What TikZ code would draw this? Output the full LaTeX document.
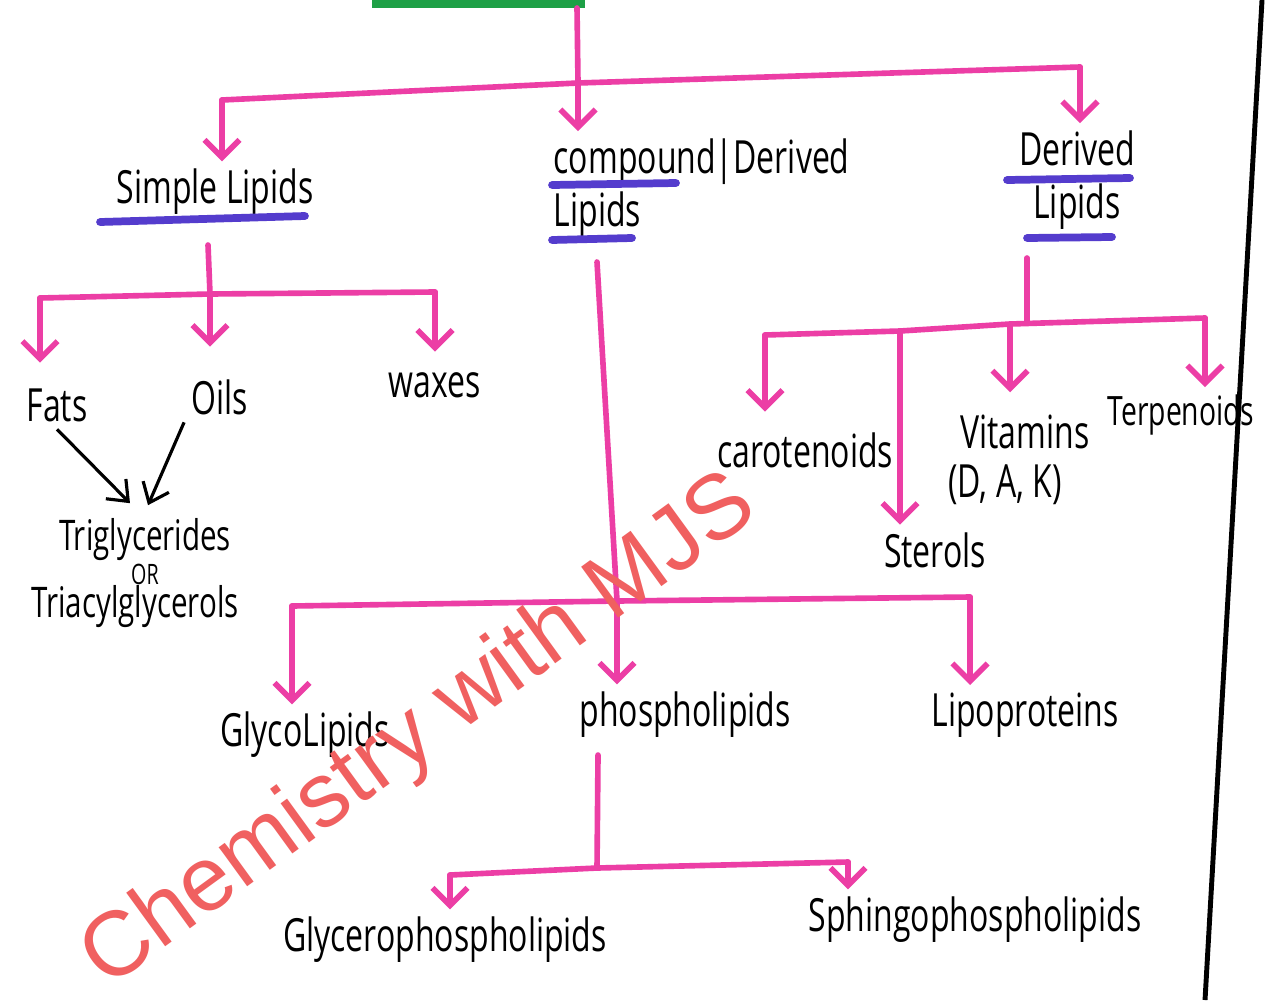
\documentclass[tikz,border=0pt]{standalone}
\usepackage{fontspec}
\setmainfont[FakeStretch=0.7]{Open Sans}
\newfontfamily\stampfont{Liberation Sans}
\usetikzlibrary{arrows.meta,positioning,calc}
\definecolor{pinkline}{RGB}{236,62,165}
\definecolor{penblue}{RGB}{84,60,205}
\definecolor{pengreen}{RGB}{30,160,70}
\definecolor{stamp}{RGB}{240,96,96}

\begin{document}
\begin{tikzpicture}[x=0.01cm,y=-0.01cm]
\tikzset{
    lbl/.style={inner sep=2pt,font=\fontsize{13}{15}\selectfont},
    bar/.style={pinkline,line width=1.6pt,line cap=round,line join=round},
    arr/.style={bar,-{Straight Barb[length=5pt,width=10pt,line width=1.6pt]}},
    uline/.style={penblue,line width=2.2pt,line cap=round},
    pen/.style={->,>={Straight Barb[length=5pt,width=8pt]},line width=0.9pt}
}
\useasboundingbox (0,0) rectangle (1271,1000);
\fill[white] (0,0) rectangle (1271,1000);
\draw[pengreen,line width=3pt] (372,3) -- (585,3);
\draw[line width=1.4pt] (1262,0) -- (1205,1000);
  % labels
\node[lbl] (simple) at (215,192) {Simple Lipids};
\node[lbl,anchor=west,align=left] (compound) at (546,188) {compound|Derived\\Lipids};
\node[lbl,align=center] (derived) at (1077,180) {Derived\\Lipids};
\node[lbl] (fats) at (57,405) {Fats};
\node[lbl] (oils) at (220,397) {Oils};
\node[lbl] (waxes) at (435,385) {waxes};
\node[lbl,font=\fontsize{12}{12}\selectfont] (trig) at (145,540) {Triglycerides};
\node[lbl,inner sep=0pt,font=\fontsize{8}{8}\selectfont] (or) at (145,574) {OR};
\node[lbl,font=\fontsize{12}{12}\selectfont] (triac) at (135,607) {Triacylglycerols};
\node[lbl] (carot) at (805,450) {carotenoids};
\node[lbl] (vit) at (1025,432) {Vitamins};
\node[lbl] (dak) at (1005,485) {(D, A, K)};
\node[lbl,font=\fontsize{11.5}{12}\selectfont] (terp) at (1181,415) {Terpenoids};
\node[lbl] (sterols) at (935,550) {Sterols};
\node[lbl] (glyco) at (305,735) {GlycoLipids};
\node[lbl] (phospho) at (685,715) {phospholipids};
\node[lbl] (lipo) at (1025,715) {Lipoproteins};
\node[lbl] (glycero) at (445,940) {Glycerophospholipids};
\node[lbl] (sphingo) at (975,920) {Sphingophospholipids};
% underlines
\draw[uline] (100,222) -- (305,216);
\draw[uline] (552,185) -- (676,183);
\draw[uline] (552,240) -- (632,238);
\draw[uline] (1007,180) -- (1130,178);
\draw[uline] (1027,238) -- (1112,237);
% branch points
\coordinate (top) at (577,8);
\coordinate (tL) at (222,100);
\coordinate (tM) at (578,83);
\coordinate (tR) at (1080,67);
\coordinate (sS) at (208,245);
\coordinate (sM) at (210,294);
\coordinate (sL) at (40,298);
\coordinate (sR) at (435,292);
\coordinate (cS) at (597,262);
\coordinate (cM) at (617,601);
\coordinate (cL) at (292,606);
\coordinate (cR) at (970,597);
\coordinate (pS) at (598,755);
\coordinate (pM) at (597,868);
\coordinate (pL) at (450,875);
\coordinate (pR) at (848,862);
\coordinate (dS) at (1027,258);
\coordinate (dM) at (1027,322);
\coordinate (dL) at (765,335);
\coordinate (dA) at (900,331);
\coordinate (dB) at (1010,324);
\coordinate (dR) at (1205,318);
% edges
\draw[bar] (top) -- (tM);
\draw[bar] (tL) -- (tM) -- (tR);
\draw[arr] (tL) -- (tL |- simple.north);
\draw[arr] (tM) -- (tM |- compound.north);
\draw[arr] (tR) -- (tR |- derived.north);

\draw[bar] (sS) -- (sM);
\draw[bar] (sL) -- (sM) -- (sR);
\draw[arr,shorten >=0.18cm] (sL) -- (sL |- fats.north);
\draw[arr,shorten >=0.25cm] (sM) -- (sM |- oils.north);
\draw[arr,shorten >=0.13cm] (sR) -- (sR |- waxes.north);
\draw[pen] (fats.south) -- ($(trig.north)+(-15,-8)$);
\draw[pen] (oils.south west) -- ($(trig.north)+(3,-6)$);

\draw[bar] (cS) -- (cM);
\draw[bar] (cL) -- (cM) -- (cR);
\draw[arr] (cM) -- (cM |- phospho.north);
\draw[arr] (cL) -- (cL |- glyco.north);
\draw[arr] (cR) -- (cR |- lipo.north);

\draw[bar] (pS) -- (pM);
\draw[bar] (pL) -- (pM) -- (pR);
\draw[arr] (pL) -- (pL |- glycero.north);
\draw[arr] (pR) -- (pR |- sphingo.north);

\draw[bar] (dS) -- (dM);
\draw[bar] (dL) -- (dA) -- (dB) -- (dR);
\draw[arr,shorten >=0.13cm] (dL) -- (dL |- carot.north);
\draw[arr] (dA) -- (dA |- sterols.north);
\draw[arr,shorten >=0.15cm] (dB) -- (dB |- vit.north);
\draw[arr] (dR) -- (dR |- terp.north);
% watermark
\node[rotate=36,text=stamp,font=\stampfont\fontsize{26}{26}\selectfont] (mark) at (420,733) {Chemistry with MJS};
\end{tikzpicture}
\end{document}
